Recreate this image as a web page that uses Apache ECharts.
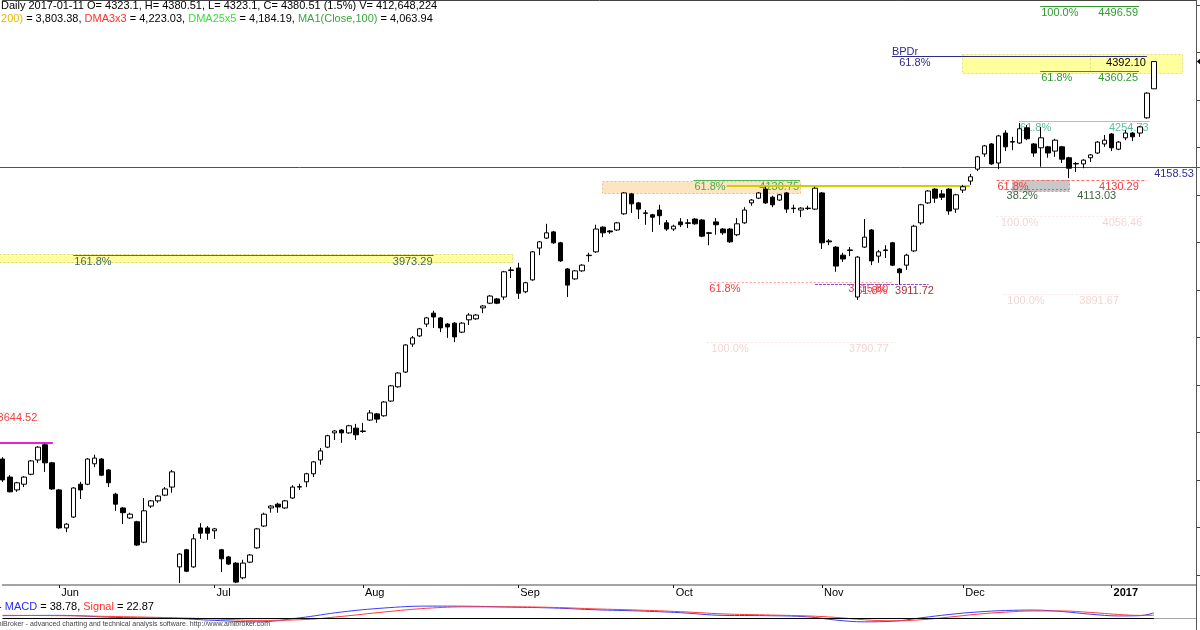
<!DOCTYPE html>
<html><head><meta charset="utf-8">
<script src="https://cdn.jsdelivr.net/npm/echarts@6/dist/echarts.min.js"></script>
<style>html,body{margin:0;padding:0;background:#fff;overflow:hidden}#c{width:1200px;height:630px}</style>
</head><body><div id="c"></div>
<script>
// ---------- DATA ----------
const dates = [
"2016-05-19","2016-05-20","2016-05-23","2016-05-24","2016-05-25","2016-05-26","2016-05-27","2016-05-31",
"2016-06-01","2016-06-02","2016-06-03","2016-06-06","2016-06-07","2016-06-08","2016-06-09","2016-06-10","2016-06-13","2016-06-14","2016-06-15","2016-06-16","2016-06-17","2016-06-20","2016-06-21","2016-06-22","2016-06-23","2016-06-24","2016-06-27","2016-06-28","2016-06-29","2016-06-30",
"2016-07-01","2016-07-04","2016-07-05","2016-07-06","2016-07-07","2016-07-08","2016-07-11","2016-07-12","2016-07-13","2016-07-14","2016-07-15","2016-07-18","2016-07-19","2016-07-20","2016-07-21","2016-07-22","2016-07-25","2016-07-26","2016-07-27","2016-07-28","2016-07-29",
"2016-08-01","2016-08-02","2016-08-03","2016-08-04","2016-08-05","2016-08-08","2016-08-09","2016-08-10","2016-08-11","2016-08-12","2016-08-15","2016-08-16","2016-08-17","2016-08-18","2016-08-19","2016-08-22","2016-08-23","2016-08-24","2016-08-25","2016-08-26","2016-08-30","2016-08-31",
"2016-09-01","2016-09-02","2016-09-05","2016-09-06","2016-09-07","2016-09-08","2016-09-09","2016-09-12","2016-09-13","2016-09-14","2016-09-15","2016-09-16","2016-09-19","2016-09-20","2016-09-21","2016-09-22","2016-09-23","2016-09-26","2016-09-27","2016-09-28","2016-09-29","2016-09-30",
"2016-10-03","2016-10-04","2016-10-05","2016-10-06","2016-10-07","2016-10-10","2016-10-11","2016-10-12","2016-10-13","2016-10-14","2016-10-17","2016-10-18","2016-10-19","2016-10-20","2016-10-21","2016-10-24","2016-10-25","2016-10-26","2016-10-27","2016-10-28","2016-10-31",
"2016-11-01","2016-11-02","2016-11-03","2016-11-04","2016-11-07","2016-11-08","2016-11-09","2016-11-10","2016-11-14","2016-11-15","2016-11-16","2016-11-17","2016-11-18","2016-11-21","2016-11-22","2016-11-23","2016-11-25","2016-11-28","2016-11-29","2016-11-30",
"2016-12-01","2016-12-02","2016-12-05","2016-12-06","2016-12-07","2016-12-08","2016-12-09","2016-12-12","2016-12-13","2016-12-14","2016-12-15","2016-12-16","2016-12-19","2016-12-20","2016-12-21","2016-12-22","2016-12-23","2016-12-27","2016-12-28","2016-12-29","2016-12-30",
"2017-01-03","2017-01-04","2017-01-05","2017-01-06","2017-01-09","2017-01-10","2017-01-11"];
// empty future slots on the right of the chart
const padDates = ["2017-01-12","2017-01-13","2017-01-16","2017-01-17","2017-01-18","2017-01-19"];

// [open, close, low, high]
const candles = [
[3544,3500,3496,3548],[3506,3475,3474,3510],[3479,3494,3475,3496],[3491,3506,3485,3508],[3512,3540,3510,3542],
[3542,3569,3536,3571],[3574,3536,3517,3576],[3536,3481,3479,3538],[3479,3399,3397,3481],[3399,3407,3390,3409],
[3422,3483,3420,3485],[3491,3479,3460,3496],[3491,3544,3489,3546],[3534,3546,3527,3553],[3544,3510,3508,3546],
[3521,3494,3485,3523],[3470,3449,3435,3473],[3441,3431,3407,3443],[3420,3428,3418,3431],[3412,3363,3361,3414],
[3369,3435,3367,3462],[3445,3456,3441,3458],[3456,3466,3452,3468],[3468,3481,3466,3485],[3485,3517,3473,3521],
[3317,3344,3283,3346],[3353,3308,3306,3355],[3317,3376,3315,3386],[3399,3388,3376,3409],[3399,3388,3374,3403],
[3393,3397,3376,3399],[3353,3334,3306,3355],[3338,3323,3321,3340],[3325,3285,3283,3327],[3294,3325,3291,3332],
[3327,3342,3325,3344],[3357,3397,3355,3399],[3403,3428,3401,3431],[3441,3445,3431,3447],[3449,3443,3431,3452],
[3441,3456,3439,3458],[3462,3485,3460,3489],[3485,3486,3479,3492],[3496,3513,3485,3515],[3513,3538,3506,3540],
[3542,3561,3532,3567],[3569,3593,3567,3595],[3599,3603,3584,3605],[3605,3599,3578,3607],[3599,3614,3597,3616],
[3609,3595,3584,3618],[3603,3602,3599,3620],[3626,3641,3624,3647],[3639,3628,3620,3641],[3635,3664,3633,3666],
[3666,3698,3664,3700],[3696,3725,3694,3727],[3727,3784,3725,3786],[3786,3799,3780,3803],[3803,3818,3801,3820],
[3828,3841,3822,3843],[3851,3843,3820,3856],[3841,3820,3811,3843],[3828,3822,3799,3830],[3830,3801,3790,3832],
[3811,3830,3809,3832],[3837,3847,3826,3851],[3839,3847,3837,3849],[3862,3866,3851,3868],[3872,3887,3870,3889],
[3881,3872,3870,3883],[3885,3938,3879,3940],[3942,3941,3925,3948],[3946,3893,3881,3957],[3896,3915,3893,3917],
[3921,3980,3919,3982],[3988,4001,3973,4003],[4009,4020,4007,4039],[4022,3999,3997,4024],[3999,3961,3959,4001],
[3944,3910,3885,3946],[3923,3940,3921,3942],[3940,3952,3938,3954],[3972,3973,3959,3978],[3980,4028,3978,4037],
[4032,4020,4011,4034],[4024,4022,4018,4026],[4026,4041,4024,4043],[4060,4104,4058,4106],[4102,4081,4062,4104],
[4083,4070,4049,4085],[4062,4061,4037,4068],[4058,4053,4022,4060],[4068,4056,4037,4079],[4041,4028,4024,4047],
[4028,4034,4024,4037],[4043,4037,4032,4051],[4041,4040,4030,4049],[4049,4039,4037,4051],[4047,4013,4011,4049],
[4020,4019,3994,4022],[4043,4037,4016,4051],[4028,4020,4016,4030],[4028,4001,3999,4030],[4016,4039,4013,4051],
[4041,4068,4039,4074],[4083,4089,4077,4091],[4093,4104,4091,4106],[4112,4083,4081,4117],[4095,4079,4074,4098],
[4089,4100,4087,4102],[4104,4070,4062,4106],[4072,4071,4062,4079],[4068,4072,4053,4074],[4072,4071,4068,4077],
[4070,4114,4068,4117],[4104,3999,3986,4106],[4003,4001,3994,4007],[3990,3950,3938,3992],[3973,3965,3959,3978],
[3984,3983,3971,3990],[3885,3969,3879,3971],[3990,4011,3988,4049],[4026,3961,3952,4028],[3971,3980,3957,3984],
[3984,3983,3967,3994],[3999,3952,3950,4001],[3944,3936,3911.72,3946],[3952,3973,3942,3976],[3982,4034,3980,4037],
[4041,4079,4037,4081],[4083,4108,4081,4110],[4112,4093,4083,4114],[4102,4095,4089,4110],[4112,4066,4058,4114],
[4070,4100,4062,4102],[4110,4117,4104,4121],[4129,4138,4121,4144],[4154,4180,4150,4182],[4186,4203,4180,4205],
[4207,4165,4163,4209],[4167,4224,4154,4226],[4230,4201,4192,4236],[4212,4211,4194,4222],[4209,4239,4207,4251],
[4241,4218,4215,4247],[4207,4188,4180,4209],[4199,4220,4159,4243],[4201,4188,4178,4203],[4192,4215,4180,4218],
[4201,4175,4167,4203],[4178,4156,4135,4180],[4166,4165,4148,4169],[4165,4173,4156,4175],[4178,4184,4169,4186],
[4188,4211,4186,4213],[4207,4215,4201,4226],[4228,4199,4192,4230],[4196,4211,4194,4213],[4220,4230,4215,4236],
[4230,4222,4213,4232],[4230,4243,4222,4245],[4262,4314,4260,4316],[4323.1,4380.51,4323.1,4380.51]];

// MACD pane readings (bar index -> value)
const macdIdx    = [0,8,16,24,30,36,42,48,54,60,66,72,78,84,90,96,102,108,114,118,122,126,130,134,138,142,146,150,154,158,161,163];
const macdVals   = [20,22,8,2,-12,-22,5,45,72,85,84,78,72,60,52,40,22,20,12,-10,-22,-18,5,28,45,55,58,48,30,18,20,38.78];
const signalVals = [22,20,14,6,-2,-12,-8,15,45,70,80,80,76,66,58,47,32,25,18,8,-8,-15,-8,10,30,44,52,52,42,28,22,22.87];

const priceTicks = [3300,3400,3500,3600,3700,3800,3900,4000,4100,4200,4300,4400,4500];

// Fibonacci / level prices drawn on the chart
const levelPrices = [4496.59, 4392.10, 4360.25, 4254.73, 4158.53, 4130.29, 4113.03, 4130.75, 4119.0, 3973.29, 4056.46, 3891.67, 3790.77, 3915.80, 3911.72, 3578.4, 3644.52];
const levelPcts   = ['100.0%','61.8%','61.8%','61.8%','','61.8%','38.2%','61.8%','','161.8%','100.0%','100.0%','100.0%','61.8%','61.8%','',''];

// ---------- CHART ----------
const cats = dates.concat(padDates);
const FONT = '"Liberation Sans", Arial, Helvetica, sans-serif';
const F11 = '11px ' + FONT;
const months = ['Jan','Feb','Mar','Apr','May','Jun','Jul','Aug','Sep','Oct','Nov','Dec'];
const isMonthStart = (i) => i > 0 && i < dates.length && cats[i].slice(0,7) !== cats[i-1].slice(0,7);
const fmt = (v) => v.toFixed(2);

const GREEN='#329a32', NAVY='#2d2d88', TEAL='#5cbf9a', RED='#f03a3a', FAINT='#f1d6d6';
const L = levelPrices, P = levelPcts;
// annotation specs (style lives here, values come from the level arrays)
const annos = [
  {k:'zone', from:-0.5, to:72.1, hi:3975.5, lo:3958.6, fill:'#ffff9e', stroke:'#d9d36a'},
  {k:'zone', from:84.8, to:112.9, hi:4128.6, lo:4103.4, fill:'#fde5c4', stroke:'#efb98c'},
  {k:'zone', from:135.8, to:153.9, hi:4395.7, lo:4357.0, fill:'#ffff9e', stroke:'#dede70'},
  {k:'zone', from:153.9, to:167.0, hi:4395.7, lo:4357.0, fill:'#ffff9e', stroke:'#dede70'},
  {k:'zone', from:142.9, to:151.0, hi:4131.2, lo:4108.7, fill:'#c8c8c8', stroke:'#a8a8a8'},
  {k:'line', p:L[0], from:146.9, to:160.9, c:GREEN, l:P[0], r:fmt(L[0])},
  {k:'line', p:L[1], from:125.9, to:162.0, c:NAVY, r:fmt(L[1]), rc:'#000', lAt:126.8, l:P[1]},
  {k:'text', i:125.9, p:L[1], dy:-4.5, t:'BPDr', c:NAVY, a:'left'},
  {k:'line', p:L[2], from:146.9, to:160.9, c:GREEN, l:P[2], r:fmt(L[2])},
  {k:'line', p:L[3], from:143.9, to:162.4, c:'#8fd3bd', tc:TEAL, l:P[3], r:fmt(L[3])},
  {k:'line', p:L[4], from:-1, to:170, c:'#4b4b8f', tc:'#2f2f90', r:fmt(L[4]), rAt:168.8},
  {k:'line', p:L[5], from:140.7, to:162.0, c:'#ff6a6a', dash:[3,2], tc:RED, l:P[5], r:fmt(L[5]), rAt:161.0},
  {k:'line', p:L[6], from:142.9, to:151.0, c:'#6a9a6a', dash:[2,2], tc:'#3d653d', l:P[6], lAt:142.0, r:fmt(L[6]), rAt:157.8},
  {k:'line', p:L[7], from:97.8, to:112.9, c:'#55b855', tc:'#4ca64c', l:P[7], r:fmt(L[7])},
  {k:'line', p:L[8], from:102.5, to:136.95, c:'#d0d000', w:2},
  {k:'line', p:L[9], from:10.0, to:61.0, c:'#4d7760', tc:'#3e6670', l:P[9], r:fmt(L[9])},
  {k:'line', p:L[10], from:140.7, to:161.5, c:'#f6e6e6', dash:[2,2], tc:FAINT, l:P[10], lAt:141.2, r:fmt(L[10])},
  {k:'line', p:L[11], from:141.7, to:158.2, c:'#f6e6e6', dash:[2,2], tc:FAINT, l:P[11], lAt:142.1, r:fmt(L[11])},
  {k:'line', p:L[12], from:99.7, to:126.5, c:'#f6e6e6', dash:[2,2], tc:FAINT, l:P[12], lAt:100.2, r:fmt(L[12]), rAt:125.6},
  {k:'line', p:L[13], from:100.1, to:126.0, c:'#ff9c9c', dash:[2,2], tc:RED, l:P[13], lAt:99.9, r:fmt(L[13]), rAt:125.5},
  {k:'line', p:L[14], from:115.0, to:131.1, c:'#8a4fd8', dash:[3,1], tc:'#a03434', l:P[14], lc:RED, lAt:120.7, r:fmt(L[14]), rAt:132.0},
  {k:'line', p:L[15], from:-0.5, to:7.1, c:'#e61ee6', w:2},
  {k:'text', i:4.9, p:L[16], dy:6.8, t:fmt(L[16]), c:'#f04040', a:'right', box:'#f7d0d0'},
  {k:'mark', i:169, p:candles[candles.length-1][1]}
];

function renderAnno(params, api) {
  const a = annos[params.dataIndex];
  const bw = api.size([1, 0])[0];
  const x0 = api.coord([0, 4000])[0];
  const X = (i) => x0 + i * bw;
  const Y = (p) => api.coord([0, p])[1];
  const ch = [];
  const txt = (x, y, t, c, align) => ch.push({type:'text', style:{text:t, x:x, y:y, fill:c, font:F11, align:align, verticalAlign:'middle'}});
  if (a.k === 'zone') {
    const x1 = Math.round(X(a.from)) + 0.5, x2 = Math.round(X(a.to)) + 0.5;
    const y1 = Math.round(Y(a.hi)) + 0.5, y2 = Math.round(Y(a.lo)) + 0.5;
    ch.push({type:'rect', shape:{x:x1, y:y1, width:x2-x1, height:y2-y1}, style:{fill:a.fill, stroke:a.stroke, lineWidth:1, lineDash:[2,2]}});
  } else if (a.k === 'line') {
    const w = a.w || 1;
    const y = w === 1 ? Math.round(Y(a.p)) + 0.5 : Math.round(Y(a.p));
    ch.push({type:'line', shape:{x1:X(a.from), y1:y, x2:X(a.to), y2:y}, style:{stroke:a.c, lineWidth:w, lineDash:a.dash || null}});
    const tc = a.tc || a.c;
    if (a.l) txt(X(a.lAt != null ? a.lAt : a.from) + 1, y + 6.4, a.l, a.lc || tc, 'left');
    if (a.r) txt(X(a.rAt != null ? a.rAt : a.to) - 1, y + 6.4, a.r, a.rc || tc, 'right');
  } else if (a.k === 'text') {
    const y = Y(a.p) + a.dy, x = X(a.i);
    if (a.box) ch.push({type:'rect', shape:{x:-2.5, y:Math.round(y-6)+0.5, width:x+3, height:11}, style:{fill:null, stroke:a.box, lineDash:[1,2]}});
    txt(x, y, a.t, a.c, a.a);
  } else if (a.k === 'mark') {
    const x = X(a.i), y = Y(a.p);
    ch.push({type:'polygon', shape:{points:[[x+0.5,y],[x+4.5,y-3.5],[x+4.5,y+3.5]]}, style:{fill:'#000'}});
  }
  return {type:'group', children:ch};
}

const chart = echarts.init(document.getElementById('c'), null, {renderer:'canvas'});
const option = {
  animation: false,
  backgroundColor: '#fff',
  grid: [
    {left:2.7, right:3.7, top:0, bottom:45, containLabel:false},
    {left:2.7, right:3.7, top:601, bottom:6, containLabel:false}
  ],
  xAxis: [
    {type:'category', gridIndex:0, data:cats, boundaryGap:false,
     axisLine:{lineStyle:{color:'#a4a4a4', width:2}},
     axisTick:{show:true, interval:isMonthStart, length:3, lineStyle:{color:'#222'}},
     axisLabel:{interval:isMonthStart, align:'left', margin:2, padding:[0,0,0,2], color:'#000', fontSize:11, fontFamily:FONT,
       formatter:(v) => { const m = +v.slice(5,7); return m === 1 ? '{b|' + v.slice(0,4) + '}' : months[m-1]; },
       rich:{b:{fontWeight:'bold', fontSize:11, fontFamily:FONT, color:'#000'}}},
     splitLine:{show:false}},
    {type:'category', gridIndex:0, data:cats, boundaryGap:false, position:'top',
     axisLine:{lineStyle:{color:'#444', width:1}}, axisTick:{show:false}, axisLabel:{show:false}, splitLine:{show:false}},
    {type:'category', gridIndex:1, data:cats, boundaryGap:false, position:'top',
     axisLine:{lineStyle:{color:'#a4a4a4', width:1}}, axisTick:{show:false}, axisLabel:{show:false}, splitLine:{show:false}}
  ],
  yAxis: [
    {type:'value', gridIndex:0, position:'right', min:3278.9, max:4510.0, scale:true,
     axisLine:{show:false}, axisTick:{show:true, customValues:priceTicks, length:4, lineStyle:{color:'#444'}},
     axisLabel:{show:false}, splitLine:{show:false}},
    {type:'value', gridIndex:1, position:'right', min:-36.7, max:119.7,
     axisLine:{show:false}, axisTick:{show:false}, axisLabel:{show:false}, splitLine:{show:false}}
  ],
  series: [
    {type:'custom', name:'levels', xAxisIndex:0, yAxisIndex:0, z:1, silent:true,
     renderItem:renderAnno, data:annos.map((a, k) => [k, 4000])},
    {type:'candlestick', name:'price', xAxisIndex:0, yAxisIndex:0, z:3, data:candles, barWidth:5, clip:false,
     itemStyle:{color:'#fff', color0:'#000', borderColor:'#000', borderColor0:'#000', borderColorDoji:'#000', borderWidth:1}},
    {type:'line', name:'MACD', xAxisIndex:2, yAxisIndex:1, data:macdIdx.map((i, k) => [i, macdVals[k]]),
     showSymbol:false, smooth:0.4, lineStyle:{color:'#3b3bff', width:1}, z:3,
     markLine:{silent:true, symbol:'none', label:{show:false}, lineStyle:{color:'#000', width:1, type:'solid'},
       data:[[{coord:[0, 0]}, {coord:[dates.length-1, 0]}]]}},
    {type:'line', name:'Signal', xAxisIndex:2, yAxisIndex:1, data:macdIdx.map((i, k) => [i, signalVals[k]]),
     showSymbol:false, smooth:0.4, lineStyle:{color:'#ff3b3b', width:1}, z:4}
  ],
  graphic: [
    {type:'text', left:1, top:0, z:100, style:{text:'Daily 2017-01-11 O= 4323.1, H= 4380.51, L= 4323.1, C= 4380.51 (1.5%) V= 412,648,224', font:F11, fill:'#000'}},
    {type:'text', left:-2, top:13, z:100, style:{
      text:'{y|,200)}{k| = 3,803.38, }{r|DMA3x3}{k| = 4,223.03, }{g|DMA25x5}{k| = 4,184.19, }{m|MA1(Close,100)}{k| = 4,063.94}',
      font:F11, rich:{y:{font:F11, fill:'#e6b800'}, k:{font:F11, fill:'#000'}, r:{font:F11, fill:'#ff3030'}, g:{font:F11, fill:'#3ddc3d'}, m:{font:F11, fill:'#3aa63a'}}}},
    {type:'text', left:-2, top:601, z:100, style:{
      text:'{k|- }{b|MACD}{k| = 38.78, }{r|Signal}{k| = 22.87}',
      font:F11, rich:{k:{font:F11, fill:'#000'}, b:{font:F11, fill:'#2a2aff'}, r:{font:F11, fill:'#ff3030'}}}},
    {type:'text', left:-9, top:621, z:100, style:{text:'AmiBroker - advanced charting and technical analysis software. http://www.amibroker.com', font:'7px ' + FONT, fill:'#444'}},
    {type:'line', z:100, shape:{x1:1196.5, y1:0, x2:1196.5, y2:630}, style:{stroke:'#555', lineWidth:1}}
  ]
};
chart.setOption(option);
</script>
</body></html>
